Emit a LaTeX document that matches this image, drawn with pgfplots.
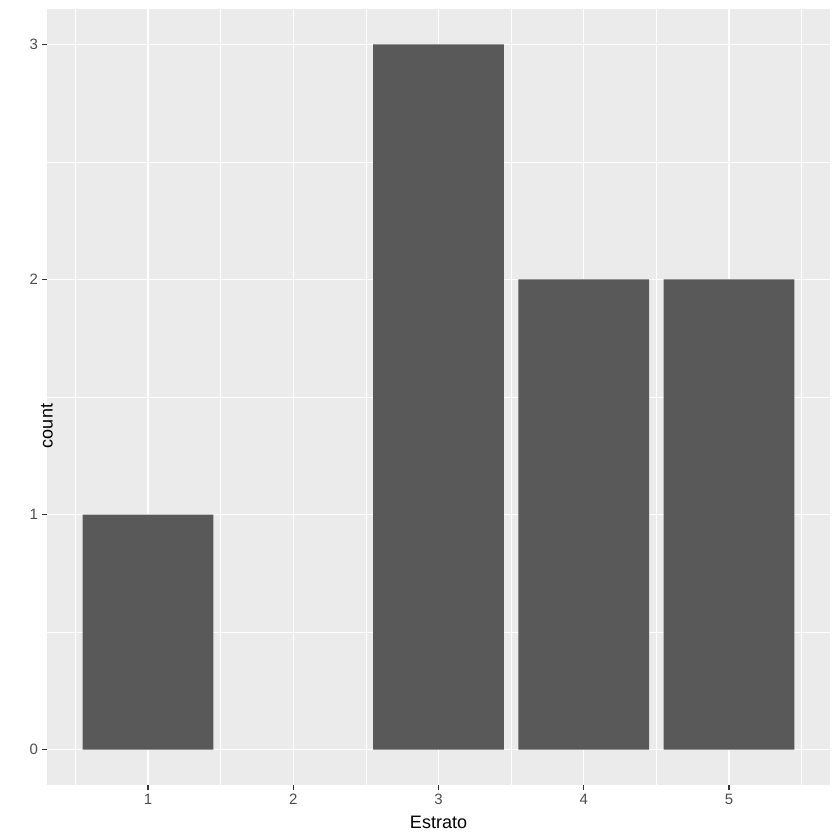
\documentclass[border=0pt]{standalone}
\usepackage{fontspec}
\setmainfont{Liberation Sans}
\usepackage{pgfplots}
\pgfplotsset{compat=1.18}
\definecolor{panelbg}{HTML}{EBEBEB}
\definecolor{barfill}{HTML}{595959}
\definecolor{ticktxt}{HTML}{4D4D4D}
\definecolor{tickln}{HTML}{333333}

\begin{document}
\begin{tikzpicture}[x=1pt,y=1pt]
\useasboundingbox (0,0) rectangle (840,840);
\begin{axis}[
    at={(47pt,55pt)}, anchor=south west,
    scale only axis,
    width=783pt, height=776pt,
    xmin=0.305, xmax=5.695,
    ymin=-0.15, ymax=3.15,
    axis line style={draw=none},
    axis background/.style={fill=panelbg},
    xtick={1,2,3,4,5},
    ytick={0,1,2,3},
    minor xtick={0.5,1.5,2.5,3.5,4.5,5.5},
    minor ytick={0.5,1.5,2.5},
    xtick pos=bottom, ytick pos=left,
    grid=both,
    major grid style={white, line width=1.2pt},
    minor grid style={white, line width=0.6pt},
    tick align=outside,
    major tick length=4.6pt,
    minor tick length=0pt,
    tick style={tickln, line width=1.2pt},
    /pgf/number format/assume math mode=true,
    ticklabel style={font=\fontsize{15}{17}\selectfont, text=ticktxt},
    xticklabel style={yshift=-1pt},
    yticklabel style={xshift=-1pt},
    xlabel={Estrato},
    ylabel={count},
    label style={font=\fontsize{18}{21}\selectfont},
    xlabel style={at={(axis description cs:0.5,0)}, anchor=center, yshift=-37pt},
    ylabel style={at={(axis description cs:0,0.5)}, anchor=center, xshift=-29pt},
]
\addplot[ybar, bar width=0.9, fill=barfill, draw=none] coordinates {
    (1,1) (3,3) (4,2) (5,2)
};
\end{axis}
\end{tikzpicture}
\end{document}
